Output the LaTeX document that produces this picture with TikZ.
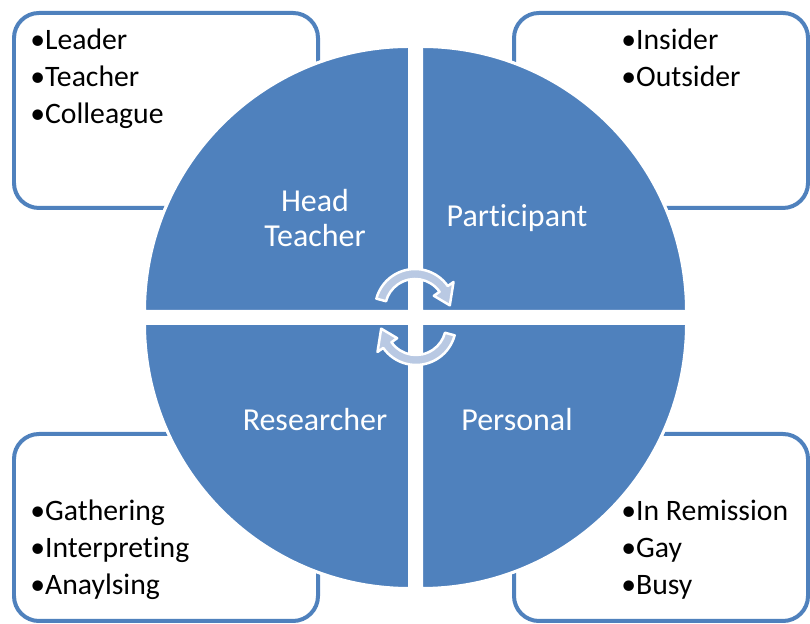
\documentclass[tikz,border=0pt]{standalone}
\usepackage{fontspec}
\setmainfont{Carlito}[Ligatures=NoCommon]
\usetikzlibrary{positioning}

\definecolor{quadblue}{HTML}{4F81BD}
\definecolor{arrowfill}{HTML}{B9C9E3}

\tikzset{
  listbox/.style={draw=quadblue, line width=0.08cm, fill=white, rounded corners=0.5cm},
  quadrant/.style={fill=quadblue, draw=white, line width=0.06cm},
  quadlabel/.style={text=white, align=center, font=\fontsize{18.2}{20}\selectfont},
  item/.style={anchor=base west, inner sep=0pt, font=\fontsize{16.9}{21}\selectfont},
  cyclearrow/.style={fill=arrowfill, draw=white, line width=0.05cm, line join=round}
}

\begin{document}
\begin{tikzpicture}[x=0.02cm, y=0.02cm]

\useasboundingbox (0,0) rectangle (810,624);

%draw the list boxes behind the circle
\begin{scope}
\clip (0,0) rectangle (810,624);
\draw[listbox] (14,416) rectangle (318,611);
\draw[listbox] (514,416) rectangle (808,611);
\draw[listbox] (14,3) rectangle (318,190);
\draw[listbox] (514,3) rectangle (808,190);
\end{scope}

%draw the four quadrants
\fill[quadrant] (409.5,312.5) -- ++(180:265) arc[start angle=180, end angle=90, radius=265] -- cycle;
\fill[quadrant] (421.5,312.5) -- ++(90:265) arc[start angle=90, end angle=0, radius=265] -- cycle;
\fill[quadrant] (421.5,300.5) -- ++(0:265) arc[start angle=0, end angle=-90, radius=265] -- cycle;
\fill[quadrant] (409.5,300.5) -- ++(-90:265) arc[start angle=270, end angle=180, radius=265] -- cycle;
\draw[quadrant] (409.5,312.5) -- ++(180:265) arc[start angle=180, end angle=90, radius=265] -- cycle;
\draw[quadrant] (421.5,312.5) -- ++(90:265) arc[start angle=90, end angle=0, radius=265] -- cycle;
\draw[quadrant] (421.5,300.5) -- ++(0:265) arc[start angle=0, end angle=-90, radius=265] -- cycle;
\draw[quadrant] (409.5,300.5) -- ++(-90:265) arc[start angle=270, end angle=180, radius=265] -- cycle;

%label quadrants
\node[quadlabel] (head) at (315,406) {Head\\Teacher};
\node[quadlabel] (participant) at (517,406) {Participant};
\node[quadlabel] (researcher) at (315,204) {Researcher};
\node[quadlabel] (personal) at (517,204) {Personal};

%draw the cycle arrows
\foreach \cx/\cy/\rot in {415/315/0, 416/299/180}
	{
	\begin{scope}[shift={(\cx,\cy)}, rotate=\rot]
	\filldraw[cyclearrow] (165:40) arc[start angle=165, end angle=35, radius=40] -- (35:47) -- (6:35) -- (35:23) -- (35:30) arc[start angle=35, end angle=165, radius=30] -- cycle;
	\end{scope}
	}

%fill the lists
\foreach \txt [count=\i] in {Leader,Teacher,Colleague}
	\node[item] (lead\i) at (30,{574-37*(\i-1)}) {•\txt};
\foreach \txt [count=\i] in {Insider,Outsider}
	\node[item] (side\i) at (621,{574-37*(\i-1)}) {•\txt};
\foreach \txt [count=\i] in {Gathering,Interpreting,Anaylsing}
	\node[item] (res\i) at (30,{103-37*(\i-1)}) {•\txt};
\foreach \txt [count=\i] in {In Remission,Gay,Busy}
	\node[item] (pers\i) at (621,{103-37*(\i-1)}) {•\txt};

\end{tikzpicture}
\end{document}
